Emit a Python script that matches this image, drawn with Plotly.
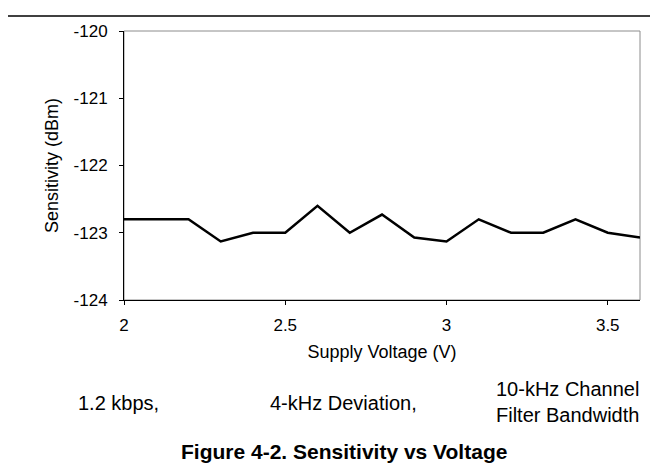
import plotly.graph_objects as go

# supply voltage (V) and measured sensitivity (dBm)
voltage = [2.0, 2.1, 2.2, 2.3, 2.4, 2.5, 2.6, 2.7, 2.8, 2.9, 3.0, 3.1, 3.2, 3.3, 3.4, 3.5, 3.6]
sensitivity = [-122.8, -122.8, -122.8, -123.13, -123.0, -123.0, -122.6, -123.0, -122.73,
               -123.07, -123.13, -122.8, -123.0, -123.0, -122.8, -123.0, -123.07]

y_ticks = [-124, -123, -122, -121, -120]
y_tick_labels = ["-124", "-123", "-122", "-121", "-120"]  # plain hyphen, as in the original

conditions = ["1.2 kbps,", "4-kHz Deviation,", "10-kHz Channel<br>Filter Bandwidth"]
caption = "<b>Figure 4-2. Sensitivity vs Voltage</b>"

FONT = "Liberation Sans, Arial, sans-serif"

fig = go.Figure()
fig.add_trace(go.Scatter(x=voltage, y=sensitivity, mode="lines",
                         line=dict(color="black", width=2.5), showlegend=False))

# grey frame (top/right), black axes drawn over it
fig.add_shape(type="rect", xref="paper", yref="paper", x0=0, x1=1, y0=0, y1=1,
              line=dict(color="#8c8c8c", width=1), layer="below")
# rule across the top of the page
fig.add_shape(type="line", xref="paper", yref="paper", x0=-0.2248, x1=1.0504, y0=1.0558, y1=1.0558,
              line=dict(color="black", width=1.5))

fig.update_xaxes(range=[2, 3.6], dtick=0.5, tick0=2, showgrid=False, zeroline=False,
                 showline=True, linecolor="black", linewidth=1,
                 ticks="outside", ticklen=4, tickcolor="black", ticklabelstandoff=6,
                 tickfont=dict(size=17, color="black"),
                 title=dict(text="Supply Voltage (V)", font=dict(size=18, color="black"), standoff=10))
fig.update_yaxes(range=[-124, -120], tickvals=y_ticks, ticktext=y_tick_labels,
                 showgrid=False, zeroline=False,
                 showline=True, linecolor="black", linewidth=1,
                 ticks="outside", ticklen=4, tickcolor="black", ticklabelstandoff=8,
                 tickfont=dict(size=17, color="black"),
                 title=dict(text="Sensitivity (dBm)", font=dict(size=18, color="black"), standoff=10))

ann_x = [-0.0097, 0.4254, 0.8595]
ann_y = [-0.383, -0.383, -0.379]
for txt, ax, ay in zip(conditions, ann_x, ann_y):
    fig.add_annotation(text=txt, xref="paper", yref="paper", x=ax, y=ay, showarrow=False,
                       xanchor="center", yanchor="middle", font=dict(size=20, color="black"))
fig.add_annotation(text=caption, xref="paper", yref="paper", x=0.4264, y=-0.565, showarrow=False,
                   xanchor="center", yanchor="middle", font=dict(size=21, color="black"))

fig.update_layout(width=658, height=470, margin=dict(l=116, r=26, t=23, b=178),
                  paper_bgcolor="white", plot_bgcolor="white",
                  font=dict(family=FONT, color="black"))

fig.write_html("out.html")
